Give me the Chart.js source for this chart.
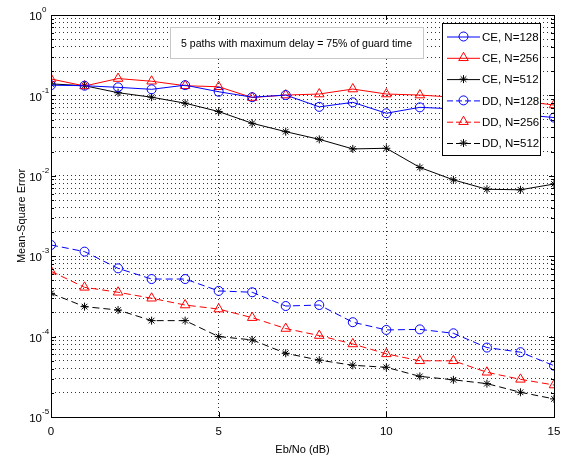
<!DOCTYPE html>
<html>
<head>
<meta charset="utf-8">
<title>Mean-Square Error vs Eb/No</title>
<script src="https://cdn.jsdelivr.net/npm/chart.js@4.4.1/dist/chart.umd.min.js"></script>
<style>
  html, body { margin: 0; padding: 0; background: #fff; }
  #wrap { width: 564px; height: 460px; }
</style>
</head>
<body>
<div id="wrap"><canvas id="mseChart" width="564" height="460"></canvas></div>
<script>
// Eb/No in dB
const snrDb = [0, 1, 2, 3, 4, 5, 6, 7, 8, 9, 10, 11, 12, 13, 14, 15];

// channel estimation (CE) curves
const ceN128 = [0.134, 0.132, 0.126, 0.119, 0.134, 0.111, 0.095, 0.101, 0.072, 0.082, 0.060, 0.071, 0.068, 0.062, 0.058, 0.053];
const ceN256 = [0.160, 0.131, 0.162, 0.150, 0.132, 0.128, 0.094, 0.101, 0.104, 0.120, 0.104, 0.101, 0.095, 0.090, 0.085, 0.076];
const ceN512 = [0.139, 0.132, 0.108, 0.095, 0.080, 0.063, 0.045, 0.0354, 0.0284, 0.0216, 0.022, 0.0127, 0.0089, 0.0068, 0.0067, 0.0079];

// decision directed (DD) curves
const ddN128 = [0.00138, 0.00114, 0.000706, 0.00052, 0.00052, 0.00037, 0.000356, 0.00024, 0.000247, 0.000151, 0.000121, 0.000123, 0.00011, 0.000073, 0.000064, 0.0000435];
const ddN256 = [0.00065, 0.00041, 0.000356, 0.0003, 0.000247, 0.00022, 0.000172, 0.000126, 0.000103, 0.000081, 0.000061, 0.00005, 0.00005, 0.000036, 0.0000294, 0.000025];
const ddN512 = [0.000345, 0.000236, 0.000214, 0.000158, 0.000158, 0.0001, 0.000091, 0.000062, 0.000051, 0.000044, 0.0000415, 0.000032, 0.000029, 0.000026, 0.0000203, 0.0000168];

const seriesLabels = ['CE, N=128', 'CE, N=256', 'CE, N=512', 'DD, N=128', 'DD, N=256', 'DD, N=512'];
const xTicks = [0, 5, 10, 15];
const yDecades = [-5, -4, -3, -2, -1, 0];
const noteText = '5 paths with maximum delay = 75% of guard time';
const xTitle = 'Eb/No (dB)';
const yTitle = 'Mean-Square Error';

const FONT = '"Liberation Sans", Arial, Helvetica, sans-serif';

// 1..9 x 10^d for every decade, plus the top 10^0
const yTickValues = [];
yDecades.forEach(d => {
    if (d === yDecades[yDecades.length - 1]) {
        yTickValues.push(Math.pow(10, d));
        return;
    }
    for (let m = 1; m <= 9; m++) yTickValues.push(m * Math.pow(10, d));
});

function isDecade(v) {
    const e = Math.log10(v);
    return Math.abs(e - Math.round(e)) < 1e-9;
}

function toPoints(values) {
    return values.map((v, i) => ({ x: snrDb[i], y: v }));
}

function makeSet(label, values, color, marker, radius, dashed) {
    return {
        label: label,
        data: toPoints(values),
        borderColor: color,
        backgroundColor: 'rgba(0,0,0,0)',
        borderWidth: 1,
        borderDash: dashed ? [7, 4] : [],
        pointStyle: marker,
        pointRadius: radius,
        pointBorderColor: color,
        pointBackgroundColor: 'rgba(0,0,0,0)',
        pointBorderWidth: 1,
        tension: 0,
        fill: false
    };
}

const datasets = [
    makeSet(seriesLabels[0], ceN128, '#0000ff', 'circle', 4.5, false),
    makeSet(seriesLabels[1], ceN256, '#ff0000', 'triangle', 5.5, false),
    makeSet(seriesLabels[2], ceN512, '#000000', 'star', 4, false),
    makeSet(seriesLabels[3], ddN128, '#0000ff', 'circle', 4.5, true),
    makeSet(seriesLabels[4], ddN256, '#ff0000', 'triangle', 5.5, true),
    makeSet(seriesLabels[5], ddN512, '#000000', 'star', 4, true)
];

// axes box, inward ticks, superscript y labels, note box and legend
const matlabLook = {
    id: 'matlabLook',
    afterDatasetsDraw(chart) {
        const ctx = chart.ctx;

        // note box
        ctx.save();
        ctx.font = '11px ' + FONT;
        const noteBox = { x: 170, y: 27, w: 253, h: 31 };
        ctx.fillStyle = '#ffffff';
        ctx.fillRect(noteBox.x, noteBox.y, noteBox.w, noteBox.h);
        ctx.strokeStyle = '#c8c8c8';
        ctx.lineWidth = 1;
        ctx.strokeRect(noteBox.x + 0.5, noteBox.y + 0.5, noteBox.w, noteBox.h);
        ctx.fillStyle = '#000';
        ctx.textAlign = 'center';
        ctx.textBaseline = 'middle';
        const tw = ctx.measureText(noteText).width;
        const sx = Math.min(1, 231 / tw);
        ctx.translate(noteBox.x + noteBox.w / 2, noteBox.y + noteBox.h / 2 + 1);
        ctx.scale(sx, 1);
        ctx.fillText(noteText, 0, 0);
        ctx.restore();

        // legend
        ctx.save();
        const lg = { x: 442, y: 23, w: 98, h: 132 };
        ctx.fillStyle = '#ffffff';
        ctx.fillRect(lg.x, lg.y, lg.w, lg.h);
        ctx.strokeStyle = '#000';
        ctx.lineWidth = 1;
        ctx.strokeRect(lg.x + 0.5, lg.y + 0.5, lg.w, lg.h);
        ctx.font = '11.5px ' + FONT;
        ctx.textBaseline = 'middle';
        ctx.textAlign = 'left';
        chart.data.datasets.forEach((ds, i) => {
            const cy = lg.y + 13.5 + i * 21.3;
            ctx.save();
            ctx.strokeStyle = ds.borderColor;
            ctx.lineWidth = 1;
            ctx.setLineDash(ds.borderDash.length ? [6, 3] : []);
            ctx.beginPath();
            ctx.moveTo(lg.x + 5, cy + 0.5);
            ctx.lineTo(lg.x + 38, cy + 0.5);
            ctx.stroke();
            ctx.setLineDash([]);
            ctx.fillStyle = 'rgba(0,0,0,0)';
            Chart.helpers.drawPoint(ctx, {
                pointStyle: ds.pointStyle,
                radius: ds.pointRadius,
                rotation: 0,
                borderWidth: 1
            }, lg.x + 21.5, cy);
            ctx.restore();
            ctx.fillStyle = '#000';
            ctx.fillText(ds.label, lg.x + 40, cy + 1);
        });
        ctx.restore();
    },
    afterDraw(chart) {
        const ctx = chart.ctx;
        const area = chart.chartArea;
        const xs = chart.scales.x;
        const ys = chart.scales.y;
        ctx.save();
        ctx.strokeStyle = '#000';
        ctx.lineWidth = 1;
        ctx.strokeRect(Math.round(area.left) + 0.5, Math.round(area.top) + 0.5,
            Math.round(area.right - area.left), Math.round(area.bottom - area.top));

        // inward ticks
        ctx.beginPath();
        ys.ticks.forEach(t => {
            const py = Math.round(ys.getPixelForValue(t.value)) + 0.5;
            const len = isDecade(t.value) ? 5 : 3;
            ctx.moveTo(area.left, py); ctx.lineTo(area.left + len, py);
            ctx.moveTo(area.right, py); ctx.lineTo(area.right - len, py);
        });
        xs.ticks.forEach(t => {
            const px = Math.round(xs.getPixelForValue(t.value)) + 0.5;
            ctx.moveTo(px, area.bottom); ctx.lineTo(px, area.bottom - 5);
            ctx.moveTo(px, area.top); ctx.lineTo(px, area.top + 5);
        });
        ctx.stroke();

        // 10^n labels with superscript exponent
        ctx.fillStyle = '#000';
        ys.ticks.forEach(t => {
            if (!isDecade(t.value)) return;
            const py = ys.getPixelForValue(t.value);
            const ex = Math.round(Math.log10(t.value));
            ctx.font = '11.5px ' + FONT;
            ctx.textAlign = 'right';
            ctx.textBaseline = 'middle';
            ctx.fillText('10', area.left - 9, py + 2);
            ctx.font = '8px ' + FONT;
            ctx.textAlign = 'left';
            ctx.fillText(String(ex), area.left - 9, py - 5);
        });
        ctx.restore();
    }
};

const ctx = document.getElementById('mseChart').getContext('2d');
const chart = new Chart(ctx, {
    type: 'line',
    data: { datasets: datasets },
    options: {
        responsive: false,
        animation: false,
        layout: { padding: { left: 0, top: 15, right: 10, bottom: 0 } },
        plugins: {
            legend: { display: false },
            tooltip: { enabled: false }
        },
        scales: {
            x: {
                type: 'linear',
                min: 0,
                max: 15,
                afterBuildTicks: scale => {
                    scale.ticks = xTicks.map(v => ({ value: v }));
                },
                afterFit: scale => {
                    scale.height = 43;
                    scale.paddingLeft = 0;
                    scale.paddingRight = 0;
                },
                grid: { color: 'rgba(0,0,0,0.8)', lineWidth: 1, drawTicks: false },
                border: { display: false, dash: [1, 3] },
                ticks: {
                    autoSkip: false,
                    maxRotation: 0,
                    padding: 8,
                    color: '#000',
                    font: { family: FONT, size: 11.5 }
                },
                title: {
                    display: true,
                    text: xTitle,
                    color: '#000',
                    padding: { top: 0, bottom: 3 },
                    font: { family: FONT, size: 11 }
                }
            },
            y: {
                type: 'logarithmic',
                min: 1e-5,
                max: 1,
                afterBuildTicks: scale => {
                    scale.ticks = yTickValues.map(v => ({ value: v, major: isDecade(v) }));
                },
                afterFit: scale => {
                    scale.width = 51;
                    scale.paddingTop = 0;
                    scale.paddingBottom = 0;
                },
                grid: { color: 'rgba(0,0,0,0.8)', lineWidth: 1, drawTicks: false },
                border: { display: false, dash: [1, 3] },
                ticks: { display: false, autoSkip: false },
                title: {
                    display: true,
                    text: yTitle,
                    color: '#000',
                    padding: { top: 15, bottom: 0 },
                    font: { family: FONT, size: 11 }
                }
            }
        }
    },
    plugins: [matlabLook]
});
</script>
</body>
</html>
